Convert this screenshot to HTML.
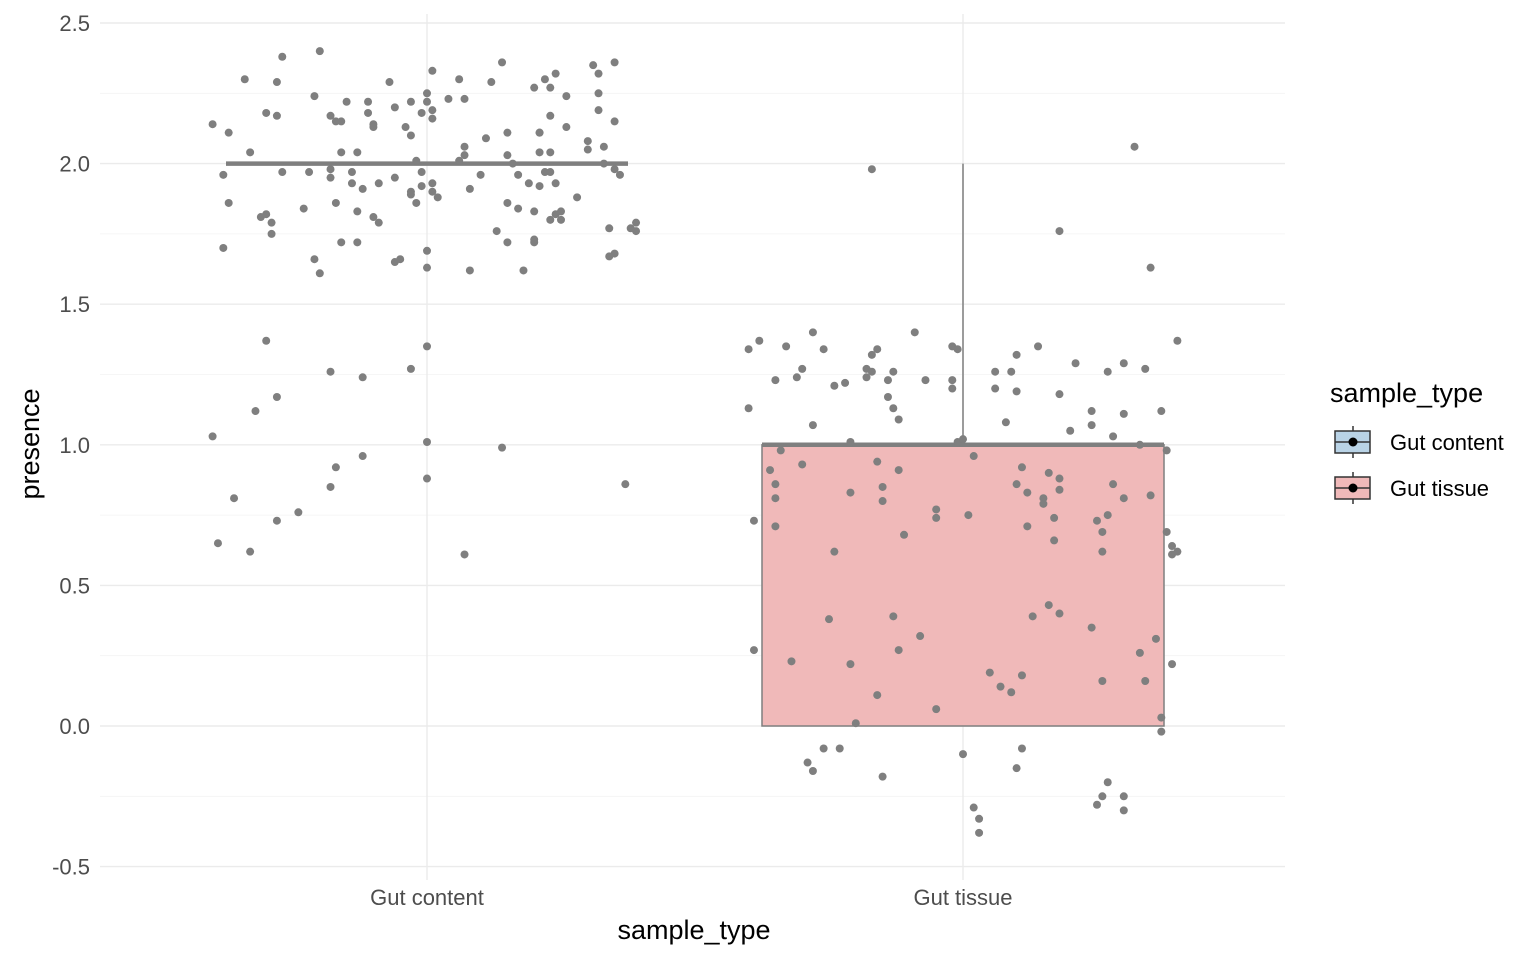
<!DOCTYPE html>
<html><head><meta charset="utf-8">
<style>
html,body{margin:0;padding:0;background:#fff;}
svg{display:block;font-family:"Liberation Sans",Arial,sans-serif;}
</style></head>
<body>
<svg id="chart" width="1536" height="960" viewBox="0 0 1536 960"></svg>
<script>
const categories = ["Gut content", "Gut tissue"];
const yTicks = [-0.5, 0, 0.5, 1.0, 1.5, 2.0, 2.5];
const yTickLabels = ["-0.5", "0.0", "0.5", "1.0", "1.5", "2.0", "2.5"];
const boxQ1 = [2, 0];
const boxMedian = [2, 1];
const boxQ3 = [2, 1];
const boxLow = [2, 0];
const boxHigh = [2, 2];
const boxFills = ["#b9d3e6", "#f0b9b9"];
const contentJitter = [-0.40,-0.37,-0.34,-0.27,-0.20,-0.38,-0.37,-0.33,-0.30,-0.28,-0.28,-0.31,-0.30,-0.29,-0.29,-0.27,-0.21,-0.23,-0.38,-0.40,-0.36,-0.39,-0.33,-0.30,-0.32,-0.28,-0.28,-0.24,-0.18,-0.18,-0.17,-0.16,-0.15,-0.16,-0.13,-0.14,-0.12,-0.10,-0.11,-0.11,-0.10,-0.09,-0.09,-0.10,-0.13,-0.16,-0.13,-0.17,-0.14,-0.18,-0.22,-0.21,-0.20,-0.18,-0.12,-0.17,-0.18,-0.12,-0.06,-0.07,-0.04,-0.03,-0.03,-0.03,-0.03,-0.02,-0.01,-0.02,-0.01,0.00,0.01,0.01,0.01,0.04,0.06,0.00,0.01,0.01,-0.01,-0.06,0.02,-0.06,-0.05,0.00,0.00,0.00,0.00,0.00,-0.03,0.07,0.07,0.07,0.08,0.08,0.06,0.10,0.12,0.14,0.15,0.15,0.13,0.15,0.15,0.16,0.17,0.17,0.18,0.19,0.20,0.20,0.20,0.21,0.21,0.22,0.22,0.23,0.21,0.23,0.23,0.24,0.24,0.24,0.25,0.26,0.26,0.28,0.30,0.30,0.31,0.32,0.32,0.32,0.33,0.33,0.35,0.35,0.35,0.36,0.34,0.35,0.34,0.39,0.39,0.38,0.14,0.07,0.37,0.23,0.20,0.25,0.23,0.21,0.11];
const contentValues = [2.14,2.11,2.30,2.38,2.40,1.96,1.86,2.04,2.18,2.17,2.29,1.81,1.82,1.79,1.75,1.97,2.24,1.84,1.70,1.03,0.81,0.65,0.62,1.37,1.12,1.17,0.73,0.76,1.95,2.17,2.15,2.15,2.22,2.04,2.04,1.97,1.91,2.14,2.22,2.18,2.13,1.93,1.79,1.81,1.83,1.72,1.72,1.86,1.93,1.98,1.97,1.66,1.61,1.26,1.24,0.92,0.85,0.96,2.20,2.29,2.13,1.90,2.22,2.10,1.89,1.86,1.97,2.01,1.92,2.22,1.93,1.90,2.33,2.23,2.30,2.25,2.19,2.16,2.18,1.95,1.88,1.65,1.66,1.69,1.63,1.35,1.01,0.88,1.27,2.23,2.06,2.03,1.62,1.91,2.01,1.96,2.29,2.36,2.11,2.03,1.76,1.86,1.72,2.00,1.96,1.84,1.62,1.93,2.27,1.83,1.72,2.11,2.04,1.97,2.30,2.27,1.92,2.17,1.97,2.32,1.93,1.82,1.83,2.24,2.13,1.88,2.05,2.08,2.35,2.32,2.19,2.25,2.00,2.06,2.15,2.36,1.98,1.96,1.77,1.68,1.67,1.79,1.76,1.77,0.99,0.61,0.86,1.80,1.73,1.80,2.04,2.11,2.09];
const tissueJitter = [-0.40,-0.38,-0.40,-0.39,-0.39,-0.36,-0.34,-0.35,-0.35,-0.35,-0.35,-0.33,-0.31,-0.30,-0.28,-0.26,-0.28,-0.30,-0.32,-0.25,-0.24,-0.24,-0.22,-0.21,-0.21,-0.21,-0.20,-0.15,-0.16,-0.15,-0.15,-0.16,-0.18,-0.16,-0.17,-0.18,-0.17,-0.17,-0.14,-0.13,-0.14,-0.13,-0.12,-0.13,-0.12,-0.12,-0.11,-0.09,-0.08,-0.07,-0.05,-0.05,-0.05,-0.02,-0.01,-0.02,-0.02,-0.01,0.00,0.00,0.02,0.01,0.06,0.06,0.08,0.09,0.10,0.10,0.10,0.11,0.12,0.12,0.14,0.15,0.15,0.16,0.17,0.17,0.18,0.18,0.18,0.18,0.20,0.21,0.24,0.24,0.24,0.25,0.26,0.27,0.27,0.26,0.26,0.28,0.28,0.30,0.30,0.30,0.32,0.33,0.33,0.34,0.35,0.35,0.37,0.38,0.38,0.40,0.39,0.39,0.40,0.39,0.37,0.36,0.37,0.18,0.13,0.11,0.07,0.09,0.10,0.11,0.03,0.03,0.02,0.25,0.26,0.27,0.30,0.30,-0.29,-0.28,-0.26,-0.23,0.34,0.05,0.16];
const tissueValues = [1.34,1.37,1.13,0.73,0.27,0.91,0.98,0.86,0.81,0.71,1.23,1.35,1.24,1.27,1.40,1.34,1.07,0.93,0.23,0.38,0.62,1.21,1.22,1.01,0.83,0.22,0.01,-0.18,0.11,0.80,0.85,0.94,1.24,1.34,1.98,1.27,1.32,1.26,1.23,1.26,1.17,1.13,1.09,0.39,0.91,0.27,0.68,1.40,0.32,1.23,0.77,0.74,0.06,1.35,1.34,1.20,1.23,1.01,1.02,-0.10,0.96,0.75,1.26,1.20,1.08,1.26,1.19,1.32,0.86,0.92,0.83,0.71,1.35,0.81,0.79,0.90,0.66,0.74,0.84,0.88,1.18,1.76,1.05,1.29,1.12,1.07,0.35,0.73,0.69,0.75,1.26,0.62,0.16,1.03,0.86,1.29,1.11,0.81,2.06,1.00,0.26,0.16,1.63,0.82,1.12,0.69,0.98,1.37,0.61,0.64,0.62,0.22,-0.02,0.31,0.03,0.40,0.39,0.18,0.14,0.12,-0.15,-0.08,-0.38,-0.33,-0.29,-0.28,-0.25,-0.20,-0.25,-0.30,-0.13,-0.16,-0.08,-0.08,1.27,0.19,0.43];

const NS = "http://www.w3.org/2000/svg";
const svg = document.getElementById("chart");
const plotL = 100, plotR = 1285, plotT = 14, plotB = 880;
function yScale(v){ return 726 - v * 281.2; }
function xScale(c){ return 427 + c * 536; }
function mk(tag, attrs, parent){
  const e = document.createElementNS(NS, tag);
  for (const k in attrs) e.setAttribute(k, attrs[k]);
  (parent || svg).appendChild(e);
  return e;
}
const grid = mk("g", {});


for (let i = 0; i < yTicks.length; i++) {
  const y = yScale(yTicks[i]);
  mk("line", {x1: plotL, x2: plotR, y1: y, y2: y, stroke: "#ebebeb", "stroke-width": 1.4}, grid);
  if (i < yTicks.length - 1) {
    const ym = yScale((yTicks[i] + yTicks[i+1]) / 2);
    mk("line", {x1: plotL, x2: plotR, y1: ym, y2: ym, stroke: "#f3f3f3", "stroke-width": 0.8}, grid);
  }
}
for (let c = 0; c < categories.length; c++) {
  const x = xScale(c);
  mk("line", {x1: x, x2: x, y1: plotT, y2: plotB, stroke: "#ebebeb", "stroke-width": 1.4}, grid);
}
for (let i = 0; i < yTicks.length; i++) {
  const t = mk("text", {x: 90, y: yScale(yTicks[i]) + 8, "text-anchor": "end", "font-size": 22, fill: "#4d4d4d"});
  t.textContent = yTickLabels[i];
  
  
}
for (let c = 0; c < categories.length; c++) {
  const t = mk("text", {x: xScale(c), y: 905, "text-anchor": "middle", "font-size": 22, fill: "#4d4d4d"});
  t.textContent = categories[c];
  
  
}
const halfW = 0.375;
for (let c = 0; c < categories.length; c++) {
  const g = mk("g", {});
  
  
  const xc = xScale(c), xl = xScale(c - halfW), xr = xScale(c + halfW);
  mk("line", {x1: xc, x2: xc, y1: yScale(boxQ3[c]), y2: yScale(boxHigh[c]), stroke: "#7f7f7f", "stroke-width": 1.5}, g);
  mk("line", {x1: xc, x2: xc, y1: yScale(boxQ1[c]), y2: yScale(boxLow[c]), stroke: "#7f7f7f", "stroke-width": 1.5}, g);
  const top = yScale(boxQ3[c]), bot = yScale(boxQ1[c]);
  mk("rect", {x: xl, y: top, width: xr - xl, height: Math.max(bot - top, 0), fill: boxFills[c], stroke: "#7f7f7f", "stroke-width": 1.5}, g);
  mk("line", {x1: xl, x2: xr, y1: yScale(boxMedian[c]), y2: yScale(boxMedian[c]), stroke: "#7f7f7f", "stroke-width": 4.5}, g);
}
function drawPts(jit, vals, c, name){
  const g = mk("g", {});
  
  
  for (let i = 0; i < vals.length; i++) {
    const p = mk("circle", {cx: xScale(c + jit[i]), cy: yScale(vals[i]), r: 4, fill: "#7f7f7f"}, g);
    
    
  }
}
drawPts(contentJitter, contentValues, 0, "points-gut-content");
drawPts(tissueJitter, tissueValues, 1, "points-gut-tissue");
const xt = mk("text", {x: 694, y: 939, "text-anchor": "middle", "font-size": 27, fill: "#000"});
xt.textContent = "sample_type";


const yt = mk("text", {x: 0, y: 0, "text-anchor": "middle", "font-size": 27, fill: "#000", transform: "translate(39,444) rotate(-90)"});
yt.textContent = "presence";


const lg = mk("g", {});


const lt = mk("text", {x: 1330, y: 402, "font-size": 27, fill: "#000"}, lg);
lt.textContent = "sample_type";


for (let c = 0; c < categories.length; c++) {
  const cy = 442 + c * 46;
  const e = mk("g", {}, lg);
  
  
  mk("line", {x1: 1353, x2: 1353, y1: cy - 16, y2: cy + 16, stroke: "#333", "stroke-width": 1.5}, e);
  mk("rect", {x: 1335, y: cy - 11, width: 35, height: 22, fill: boxFills[c], stroke: "#333", "stroke-width": 1.5}, e);
  mk("line", {x1: 1335, x2: 1370, y1: cy, y2: cy, stroke: "#333", "stroke-width": 1.5}, e);
  mk("circle", {cx: 1353, cy: cy, r: 4.5, fill: "#000"}, e);
  const tx = mk("text", {x: 1390, y: cy + 8, "font-size": 22, fill: "#000"}, e);
  tx.textContent = categories[c];
}
</script>
</body></html>
